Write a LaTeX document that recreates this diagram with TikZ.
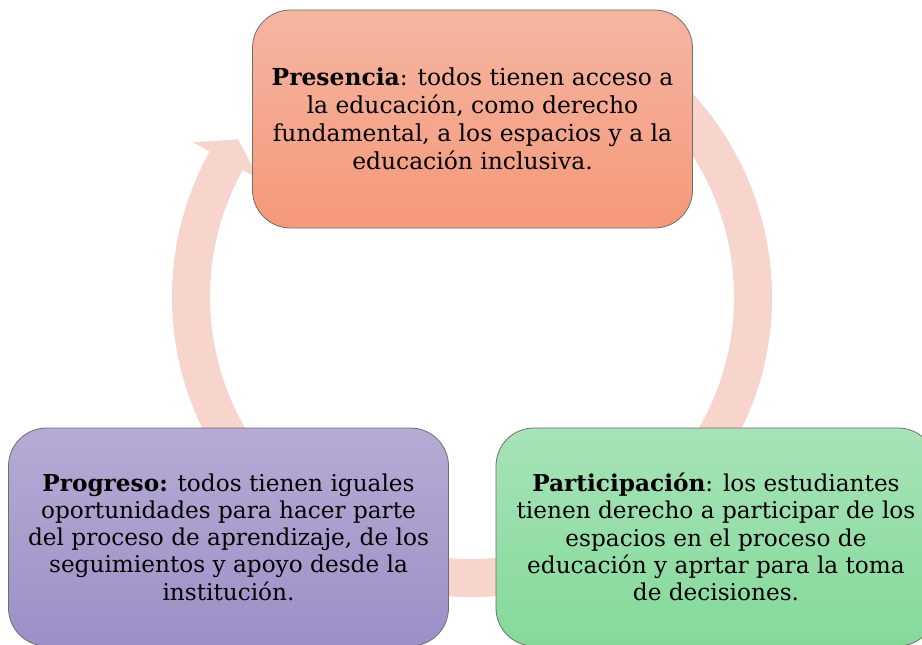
\documentclass[tikz,border=0pt]{standalone}
\usepackage{fontspec}
\setmainfont{DejaVu Serif}
\usetikzlibrary{calc}

\definecolor{ringpink}{HTML}{F8D5CC}
\definecolor{boxgray}{HTML}{6E6E6E}
\definecolor{presA}{HTML}{F5B6A1}
\definecolor{presB}{HTML}{F5987A}
\definecolor{progA}{HTML}{B6ABD5}
\definecolor{progB}{HTML}{9D8FC6}
\definecolor{partA}{HTML}{A7E3B8}
\definecolor{partB}{HTML}{84D99A}

\begin{document}
\begin{tikzpicture}[
    x=1pt, y=-1pt,
    etapa/.style={
        draw=boxgray,
        line width=0.8pt,
        rounded corners=38pt,
        minimum width=440pt,
        minimum height=218pt,
        inner sep=0pt,
        align=center,
        font=\fontsize{23.4}{28}\selectfont
    },
    etapa baja/.style={etapa, font=\fontsize{23.2}{27.3}\selectfont},
    ]

    \useasboundingbox (0,0) rectangle (922,645);
    \coordinate (centro) at (472,297);

    % flecha circular de fondo
    \fill[ringpink] ($(centro)+(-60:300)$) arc[start angle=-60, end angle=209, radius=300]
        -- ($(centro)+(209:319)$) -- ($(centro)+(214:282)$) -- ($(centro)+(209:244)$)
        -- ($(centro)+(209:262)$) arc[start angle=209, end angle=-60, radius=262] -- cycle;

    \node[etapa, top color=presA, bottom color=presB] (presencia) at (472.5,119)
        {\textbf{Presencia}: todos tienen acceso a\\ la educación, como derecho\\ fundamental, a los espacios y a la\\ educación inclusiva.};

    \node[etapa baja, top color=progA, bottom color=progB] (progreso) at (228.5,537)
        {\textbf{Progreso:} todos tienen iguales\\ oportunidades para hacer parte\\ del proceso de aprendizaje, de los\\ seguimientos y apoyo desde la\\ institución.};

    \node[etapa baja, top color=partA, bottom color=partB] (participacion) at (716,537)
        {\textbf{Participación}: los estudiantes\\ tienen derecho a participar de los\\ espacios en el proceso de\\ educación y aprtar para la toma\\ de decisiones.};

\end{tikzpicture}
\end{document}
